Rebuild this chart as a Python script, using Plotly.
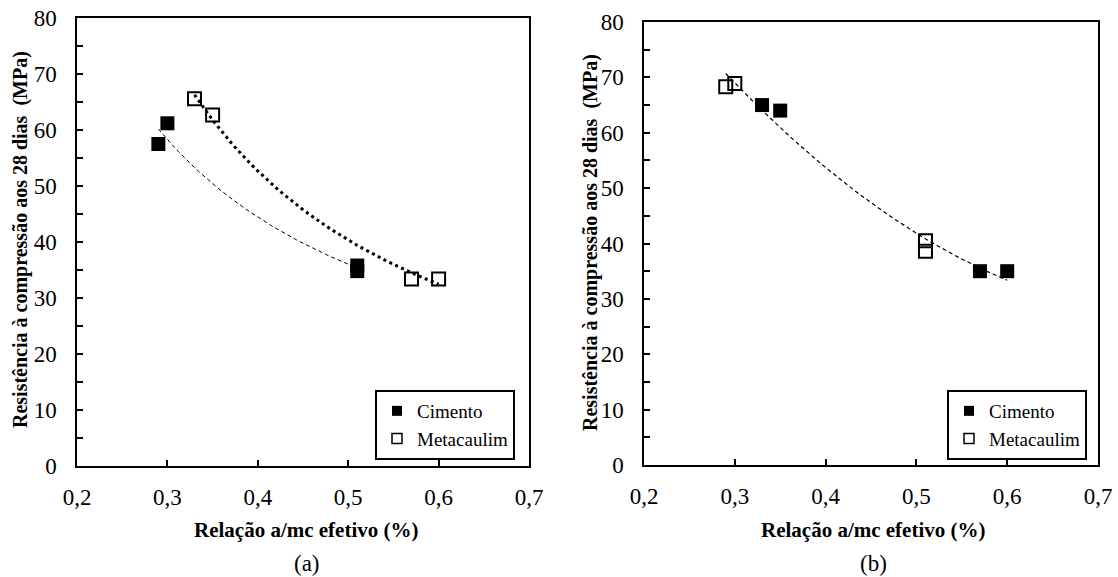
import numpy as np
import plotly.graph_objects as go

# ---------------- data ----------------
# (a)
a_cim_x = [0.29, 0.30, 0.51, 0.51]
a_cim_y = [57.5, 61.2, 35.8, 34.8]
a_met_x = [0.33, 0.35, 0.57, 0.60]
a_met_y = [65.6, 62.7, 33.4, 33.4]
# (b)
b_cim_x = [0.33, 0.35, 0.57, 0.60]
b_cim_y = [65.0, 64.0, 35.0, 35.0]
b_met_x = [0.29, 0.30, 0.51, 0.51]
b_met_y = [68.3, 68.9, 40.5, 38.6]

x_ticks = [0.2, 0.3, 0.4, 0.5, 0.6, 0.7]
x_tick_labels = ["0,2", "0,3", "0,4", "0,5", "0,6", "0,7"]
y_ticks = [0, 10, 20, 30, 40, 50, 60, 70, 80]

series_names = ["Cimento", "Metacaulim"]

FONT = '"Times New Roman", "Liberation Serif", "DejaVu Serif", serif'
W, H = 1118, 577


def trend_power(xs, ys):
    b, lna = np.polyfit(np.log(xs), np.log(ys), 1)
    xx = np.linspace(min(xs), max(xs), 60)
    return xx, np.exp(lna) * xx ** b


def trend_poly(xs, ys):
    c = np.polyfit(xs, ys, 2)
    xx = np.linspace(min(xs), max(xs), 60)
    return xx, np.polyval(c, xx)


fig = go.Figure()

# ---- subplot (a) ----
fig.add_trace(go.Scatter(x=a_cim_x, y=a_cim_y, mode="markers", showlegend=False,
                         marker=dict(symbol="square", size=14, color="black"),
                         xaxis="x", yaxis="y"))
fig.add_trace(go.Scatter(x=a_met_x, y=a_met_y, mode="markers", showlegend=False,
                         marker=dict(symbol="square-open", size=13, color="black",
                                     line=dict(width=2)),
                         xaxis="x", yaxis="y"))
tx, ty = trend_power(a_cim_x, a_cim_y)
fig.add_trace(go.Scatter(x=tx, y=ty, mode="lines", showlegend=False,
                         line=dict(color="black", width=1, dash="4px,3px"),
                         xaxis="x", yaxis="y"))
tx, ty = trend_power(a_met_x, a_met_y)
fig.add_trace(go.Scatter(x=tx, y=ty, mode="lines", showlegend=False,
                         line=dict(color="black", width=3, dash="3px,3.5px"),
                         xaxis="x", yaxis="y"))
# legend entries (a)
fig.add_trace(go.Scatter(x=[None], y=[None], mode="markers", name=series_names[0],
                         marker=dict(symbol="square", size=10, color="black"),
                         xaxis="x", yaxis="y", legend="legend"))
fig.add_trace(go.Scatter(x=[None], y=[None], mode="markers", name=series_names[1],
                         marker=dict(symbol="square-open", size=10, color="black",
                                     line=dict(width=1.5)),
                         xaxis="x", yaxis="y", legend="legend"))

# ---- subplot (b) ----
fig.add_trace(go.Scatter(x=b_cim_x, y=b_cim_y, mode="markers", showlegend=False,
                         marker=dict(symbol="square", size=14, color="black"),
                         xaxis="x2", yaxis="y2"))
fig.add_trace(go.Scatter(x=b_met_x, y=b_met_y, mode="markers", showlegend=False,
                         marker=dict(symbol="square-open", size=13, color="black",
                                     line=dict(width=2)),
                         xaxis="x2", yaxis="y2"))
tx, ty = trend_poly(b_cim_x + b_met_x, b_cim_y + b_met_y)
fig.add_trace(go.Scatter(x=tx, y=ty, mode="lines", showlegend=False,
                         line=dict(color="black", width=1.2, dash="4px,3px"),
                         xaxis="x2", yaxis="y2"))
fig.add_trace(go.Scatter(x=[None], y=[None], mode="markers", name=series_names[0],
                         marker=dict(symbol="square", size=10, color="black"),
                         xaxis="x2", yaxis="y2", legend="legend2"))
fig.add_trace(go.Scatter(x=[None], y=[None], mode="markers", name=series_names[1],
                         marker=dict(symbol="square-open", size=10, color="black",
                                     line=dict(width=1.5)),
                         xaxis="x2", yaxis="y2", legend="legend2"))

tickfont = dict(family=FONT, size=23, color="black")


def xaxis(domain, anchor):
    return dict(domain=domain, anchor=anchor, range=[0.2, 0.7], automargin=False,
                tickvals=x_ticks, ticktext=x_tick_labels,
                showline=True, linecolor="black", linewidth=1.5, mirror=True,
                ticks="inside", ticklen=6, tickwidth=1.5, tickcolor="black",
                showgrid=False, zeroline=False, tickfont=tickfont,
                ticklabelstandoff=10)


def yaxis(domain, anchor):
    return dict(domain=domain, anchor=anchor, range=[0, 80], automargin=False,
                tickvals=y_ticks,
                showline=True, linecolor="black", linewidth=1.5, mirror=True,
                ticks="inside", ticklen=6, tickwidth=1.5, tickcolor="black",
                minor=dict(dtick=5, ticks="inside", ticklen=6, tickwidth=1.5,
                           tickcolor="black", showgrid=False),
                showgrid=False, zeroline=False, tickfont=tickfont,
                ticklabelstandoff=14)


xa_dom = [77 / W, 529 / W]
ya_dom = [1 - 466 / H, 1 - 18 / H]
xb_dom = [644 / W, 1098 / W]
yb_dom = [1 - 465 / H, 1 - 22 / H]

legfont = dict(family=FONT, size=19, color="black")

ytitle = "Resistência à compressão aos 28 dias  (MPa)"
xtitle = "Relação a/mc efetivo (%)"

annotations = []
for cx, cy in [(20, 240), (590, 243)]:
    annotations.append(dict(text="<b>" + ytitle + "</b>", textangle=-90,
                            x=cx / W, y=1 - cy / H, xref="paper", yref="paper",
                            showarrow=False, xanchor="center", yanchor="middle",
                            font=dict(family=FONT, size=20, color="black")))
for cx in [306, 873]:
    annotations.append(dict(text="<b>" + xtitle + "</b>",
                            x=cx / W, y=1 - 530 / H, xref="paper", yref="paper",
                            showarrow=False, xanchor="center", yanchor="middle",
                            font=dict(family=FONT, size=21, color="black")))
for cx, lab in [(307, "(a)"), (873, "(b)")]:
    annotations.append(dict(text=lab,
                            x=cx / W, y=1 - 563 / H, xref="paper", yref="paper",
                            showarrow=False, xanchor="center", yanchor="middle",
                            font=dict(family=FONT, size=23, color="black")))

fig.update_layout(
    template="none",
    width=W, height=H, margin=dict(l=0, r=0, t=0, b=0, autoexpand=False),
    paper_bgcolor="white", plot_bgcolor="white",
    font=dict(family=FONT, color="black"),
    xaxis=xaxis(xa_dom, "y"), yaxis=yaxis(ya_dom, "x"),
    xaxis2=xaxis(xb_dom, "y2"), yaxis2=yaxis(yb_dom, "x2"),
    legend=dict(x=515 / W, y=1 - 425 / H, xanchor="right", yanchor="middle",
                bordercolor="black", borderwidth=2, bgcolor="white",
                font=legfont, tracegroupgap=0, itemwidth=30),
    legend2=dict(x=1087 / W, y=1 - 425 / H, xanchor="right", yanchor="middle",
                 bordercolor="black", borderwidth=2, bgcolor="white",
                 font=legfont, tracegroupgap=0, itemwidth=30),
    annotations=annotations,
    showlegend=True,
)

fig.write_html("out.html",
               config={"displayModeBar": False},
               post_script="document.body.style.margin='0';"
                           "document.body.style.overflow='hidden';")
